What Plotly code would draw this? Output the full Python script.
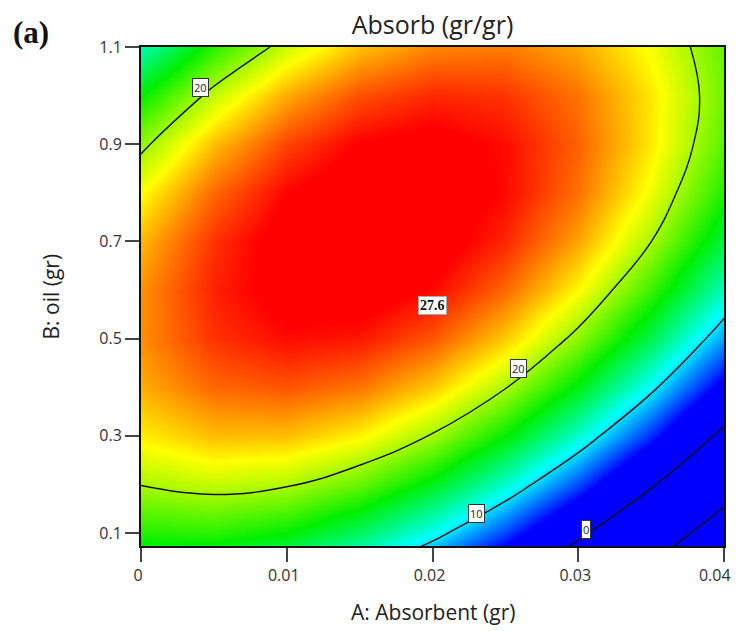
import plotly.graph_objects as go

# ---- data ----
absorbent_gr = [0.0, 0.005, 0.01, 0.015, 0.02, 0.025, 0.03, 0.035, 0.04]          # A
oil_gr = [0.0, 0.1, 0.2, 0.3, 0.4, 0.5, 0.6, 0.7, 0.8, 0.9, 1.0, 1.1]              # B
# Absorb (gr/gr), one row per oil value, one column per absorbent value
absorb_row_b00 = [13.28, 13.02, 11.60, 9.04, 5.32, 0.46, -5.56, -12.72, -21.04]
absorb_row_b01 = [17.06, 17.25, 16.30, 14.19, 10.93, 6.53, 0.97, -5.73, -13.59]
absorb_row_b02 = [20.07, 20.72, 20.22, 18.57, 15.78, 11.83, 6.73, 0.49, -6.91]
absorb_row_b03 = [22.30, 23.41, 23.37, 22.19, 19.85, 16.36, 11.73, 5.94, -1.00]
absorb_row_b04 = [23.76, 25.33, 25.76, 25.03, 23.15, 20.12, 15.94, 10.61, 4.14]
absorb_row_b05 = [24.46, 26.49, 27.37, 27.10, 25.68, 23.11, 19.39, 14.52, 8.50]
absorb_row_b06 = [24.38, 26.87, 28.21, 28.40, 27.44, 25.33, 22.07, 17.65, 12.10]
absorb_row_b07 = [23.53, 26.48, 28.27, 28.92, 28.42, 26.77, 23.97, 20.02, 14.92]
absorb_row_b08 = [21.90, 25.31, 27.57, 28.68, 28.63, 27.44, 25.10, 21.61, 16.97]
absorb_row_b09 = [19.51, 23.38, 26.10, 27.66, 28.08, 27.35, 25.47, 22.43, 18.25]
absorb_row_b10 = [16.35, 20.67, 23.85, 25.87, 26.75, 26.48, 25.05, 22.48, 18.75]
absorb_row_b11 = [12.41, 17.20, 20.83, 23.32, 24.65, 24.84, 23.87, 21.76, 18.49]
absorb_grid = [absorb_row_b00, absorb_row_b01, absorb_row_b02, absorb_row_b03,
               absorb_row_b04, absorb_row_b05, absorb_row_b06, absorb_row_b07,
               absorb_row_b08, absorb_row_b09, absorb_row_b10, absorb_row_b11]

color_min, color_max = 5.0, 27.6
contour_start, contour_end, contour_step = -10, 20, 10

# contour labels shown in the chart
label_texts = ["20", "20", "10", "0"]
label_a = [0.00405, 0.02588, 0.02304, 0.03056]
label_b = [1.0157, 0.4393, 0.1400, 0.1072]
flag_text = "27.6"
flag_a, flag_b = 0.0200, 0.569

x_tickvals = [0, 0.01, 0.02, 0.03, 0.04]
# trailing no-break spaces keep the last label inside the page edge
x_ticktext = ["0", "0.01", "0.02", "0.03", "0.04\u00a0\u00a0\u00a0"]
y_tickvals = [0.1, 0.3, 0.5, 0.7, 0.9, 1.1]
y_ticktext = ["0.1", "0.3", "0.5", "0.7", "0.9", "1.1"]

FONT = "Open Sans"

colorscale = [
    [0.0, "rgb(0,0,255)"],
    [0.25, "rgb(0,255,255)"],
    [0.5, "rgb(0,240,0)"],
    [0.75, "rgb(255,255,0)"],
    [1.0, "rgb(255,0,0)"],
]

fig = go.Figure()
fig.add_trace(go.Heatmap(
    x=absorbent_gr, y=oil_gr, z=absorb_grid,
    colorscale=colorscale, zmin=color_min, zmax=color_max,
    zsmooth="best", showscale=False, hoverinfo="skip",
))
fig.add_trace(go.Contour(
    x=absorbent_gr, y=oil_gr, z=absorb_grid,
    contours=dict(start=contour_start, end=contour_end, size=contour_step,
                  coloring="none", showlabels=False),
    line=dict(color="#111111", width=1.4, smoothing=1.2),
    showscale=False, hoverinfo="skip",
))

annotations = []
for t, a, b in zip(label_texts, label_a, label_b):
    annotations.append(dict(
        x=a, y=b, xref="x", yref="y", text=t, showarrow=False,
        font=dict(family=FONT, size=11, color="#222"),
        bgcolor="white", bordercolor="#333", borderwidth=1, borderpad=1,
    ))
annotations.append(dict(
    x=flag_a, y=flag_b, xref="x", yref="y", text="<b>" + flag_text + "</b>",
    showarrow=False, font=dict(family="Liberation Serif", size=14, color="#111"),
    bgcolor="white", bordercolor="#aaa", borderwidth=1, borderpad=1,
))
annotations.append(dict(
    x=-0.223, y=1.03, xref="paper", yref="paper", text="<b>(a)</b>",
    showarrow=False, xanchor="left", yanchor="middle",
    font=dict(family="Liberation Serif", size=31, color="#111"),
))
annotations.append(dict(
    x=0.5, y=-0.1323, xref="paper", yref="paper", text="A: Absorbent (gr)",
    showarrow=False, xanchor="center", yanchor="middle",
    font=dict(family=FONT, size=21, color="#222"),
))
annotations.append(dict(
    x=-0.1544, y=0.5, xref="paper", yref="paper", text="B: oil (gr)",
    showarrow=False, xanchor="center", yanchor="middle", textangle=-90,
    font=dict(family=FONT, size=21, color="#222"),
))

# the page body adds an 8 px offset, so the figure is 8 px smaller than the window
fig.update_layout(
    width=731, height=623,
    margin=dict(l=133, r=15, t=39, b=85),
    paper_bgcolor="white", plot_bgcolor="white",
    title=dict(text="Absorb (gr/gr)", x=0.5, xref="paper", xanchor="center",
               y=1 - 17 / 623, yanchor="middle",
               font=dict(family=FONT, size=25, color="#222")),
    annotations=annotations,
    showlegend=False,
)
fig.update_xaxes(
    range=[0, 0.04], tickvals=x_tickvals, ticktext=x_ticktext,
    ticks="outside", ticklen=14, tickwidth=2, tickcolor="#444",
    showline=True, linecolor="#111", linewidth=2, mirror=True,
    showgrid=False, zeroline=False, automargin=False,
    ticklabeloverflow="allow", ticklabelshift=-3,
    tickfont=dict(family=FONT, size=16, color="#333"),
)
fig.update_yaxes(
    range=[0.0733, 1.1], tickvals=y_tickvals, ticktext=y_ticktext,
    ticks="outside", ticklen=14, tickwidth=2, tickcolor="#444",
    showline=True, linecolor="#111", linewidth=2, mirror=True,
    showgrid=False, zeroline=False, automargin=False,
    tickfont=dict(family=FONT, size=16, color="#333"),
)

fig.write_html("out.html")
